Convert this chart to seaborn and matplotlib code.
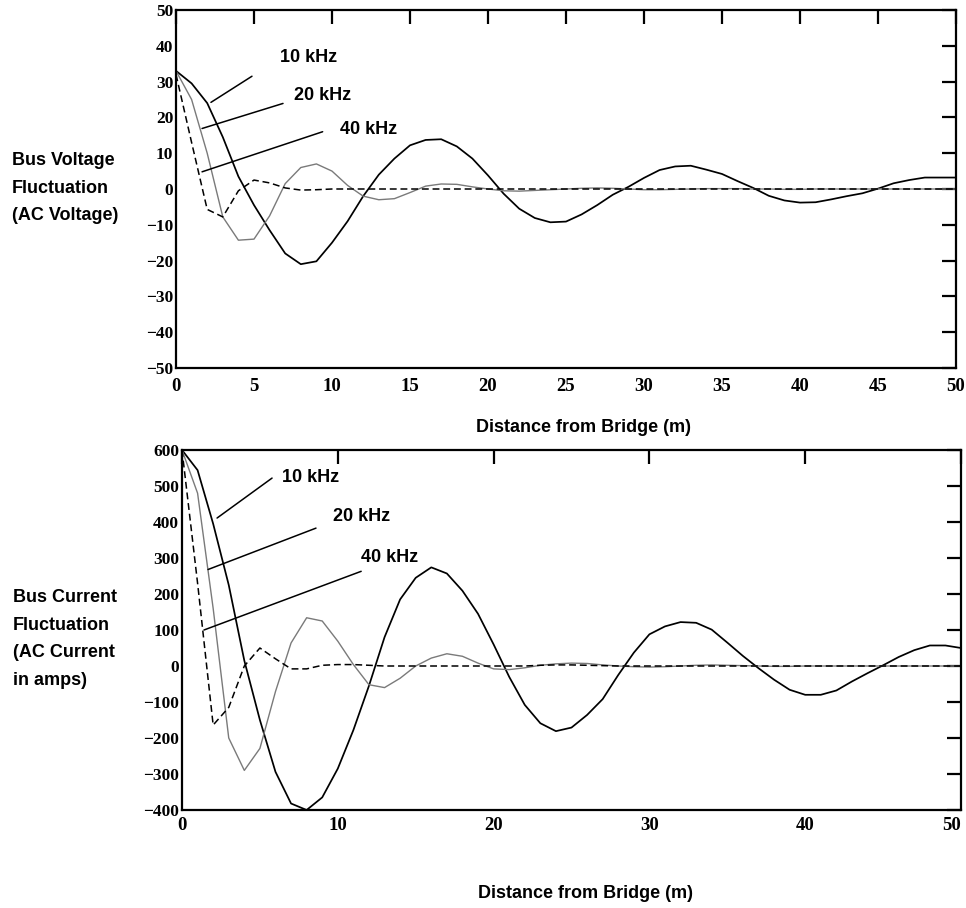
import matplotlib
matplotlib.use("Agg")
import matplotlib.pyplot as plt
import seaborn as sns
import numpy as np
import pandas as pd

# ---------------- data ----------------
distance = list(range(0, 51))

volt_10k = [33, 29.5, 24, 14.5, 3.5, -4.5, -11.5, -18, -21, -20.2,
            -15, -9, -2, 4, 8.5, 12.2, 13.7, 13.9, 11.9, 8.5,
            3.8, -1.3, -5.5, -8.1, -9.3, -9.1, -7.1, -4.5, -1.6, 0.6,
            3.1, 5.3, 6.3, 6.5, 5.4, 4.2, 2.2, 0.3, -1.9, -3.2,
            -3.8, -3.7, -2.9, -2.0, -1.2, 0.1, 1.6, 2.5, 3.2, 3.2, 3.2]
volt_20k = [33, 25, 10, -7.8, -14.3, -14, -7.5, 1.5, 6, 7,
            5, 1, -2, -3, -2.7, -1, 0.8, 1.4, 1.3, 0.6,
            0, -0.5, -0.6, -0.4, -0.2, 0, 0.2, 0.3, 0.2, 0,
            -0.2, -0.2, -0.1, 0, 0.1, 0.1, 0.1, 0, 0, -0.1,
            -0.1, 0, 0, 0, 0, 0, 0, 0, 0, 0, 0]
volt_40k = [32, 13, -5.7, -7.8, -0.5, 2.5, 1.7, 0.3, -0.3, -0.2,
            0, 0, 0, 0, 0, 0, 0, 0, 0, 0,
            0, 0, 0, 0, 0, 0, 0, 0, 0, 0,
            0, 0, 0, 0, 0, 0, 0, 0, 0, 0,
            0, 0, 0, 0, 0, 0, 0, 0, 0, 0, 0]

curr_10k = [600, 544, 395, 225, 15, -150, -294, -382, -400, -365,
            -285, -178, -55, 80, 185, 245, 274, 257, 209, 145,
            60, -30, -108, -159, -181, -171, -136, -92, -25, 37,
            88, 110, 122, 120, 101, 65, 28, -6, -38, -66,
            -80, -80, -68, -43, -20, 2, 25, 44, 57, 57, 50]
curr_20k = [600, 480, 160, -200, -290, -229, -71, 64, 134, 125,
            69, 4, -52, -60, -34, 0, 22, 34, 27, 8,
            -8, -10, -5, 2, 6, 8, 7, 3, 0, -2,
            -3, -2, 0, 2, 3, 2, 1, 0, -1, -1,
            0, 0, 0, 0, 0, 0, 0, 0, 0, 0, 0]
curr_40k = [600, 230, -164, -115, 0, 50, 20, -8, -8, 2,
            4, 4, 2, 0, 0, 0, 0, 0, 0, 0,
            0, 0, 0, 2, 3, 3, 2, 1, 0, 0,
            0, 0, 0, 0, 0, 0, 0, 0, 0, 0,
            0, 0, 0, 0, 0, 0, 0, 0, 0, 0, 0]

freq_labels = ["10 kHz", "20 kHz", "40 kHz"]
volt_yticks = list(range(-50, 51, 10))
volt_xticks = list(range(0, 51, 5))
curr_yticks = list(range(-400, 601, 100))
curr_xticks = list(range(0, 51, 10))

# ---------------- styling ----------------
sns.set_style("white")
plt.rcParams['font.family'] = ['Liberation Sans', 'DejaVu Sans']

W, H = 966, 908
fig = plt.figure(figsize=(W / 100, H / 100), dpi=100)

def fx(px):
    return px / W

def fy(py):
    return 1 - py / H

ax1 = fig.add_axes([fx(176), fy(368), fx(956) - fx(176), fy(10) - fy(368)])
ax2 = fig.add_axes([fx(182), fy(810), fx(961) - fx(182), fy(450) - fy(810)])

dfv = pd.DataFrame({"d": distance, "v10": volt_10k, "v20": volt_20k, "v40": volt_40k})
dfc = pd.DataFrame({"d": distance, "c10": curr_10k, "c20": curr_20k, "c40": curr_40k})

styles = [
    dict(color="black", lw=1.25, linestyle="-"),
    dict(color="#7a7a7a", lw=1.0, linestyle="-"),
    dict(color="black", lw=1.1, linestyle=(0, (4.5, 2.5))),
]

for ax, df, cols in [(ax1, dfv, ["v10", "v20", "v40"]), (ax2, dfc, ["c10", "c20", "c40"])]:
    for col, st in zip(cols, styles):
        sns.lineplot(data=df, x="d", y=col, ax=ax, **st)
    ax.set_xlabel("")
    ax.set_ylabel("")
    for s in ax.spines.values():
        s.set_linewidth(1.6)
        s.set_color("black")
    ax.tick_params(direction="in", length=10, width=1.6, top=True, right=True,
                   colors="black")
    ax.set_xlim(0, 50)

tick_font = dict(family="Liberation Serif", weight="bold")

ax1.set_ylim(-50, 50)
ax1.set_yticks(volt_yticks)
ax1.set_xticks(volt_xticks)
ax1.set_yticklabels([str(v).replace("-", "\u2212") for v in volt_yticks], fontsize=12.5, **tick_font)
ax1.set_xticklabels([str(v) for v in volt_xticks], fontsize=13.5, **tick_font)
ax1.tick_params(axis="y", pad=2)
ax1.tick_params(axis="x", pad=7)

ax2.set_ylim(-400, 600)
ax2.set_yticks(curr_yticks)
ax2.set_xticks(curr_xticks)
ax2.set_yticklabels([str(v).replace("-", "\u2212") for v in curr_yticks], fontsize=12.5, **tick_font)
ax2.set_xticklabels([str(v) for v in curr_xticks], fontsize=13.5, **tick_font)
ax2.tick_params(axis="y", pad=2)
ax2.tick_params(axis="x", pad=5)
ax2.get_xticklabels()[-1].set_horizontalalignment("right")

# ---------------- annotations ----------------
lab_font = dict(fontsize=13, fontweight="bold", color="black")

top_text = [(6.67, 35.4), (7.56, 25.0), (10.5, 15.4)]
top_lead = [((4.87, 31.5), (2.24, 24.2)), ((6.86, 23.9), (1.67, 16.9)), ((9.4, 16.0), (1.67, 4.8))]
bot_text = [(6.42, 511), (9.69, 402), (11.49, 290)]
bot_lead = [((5.78, 522), (2.25, 411)), ((8.6, 383), (1.67, 268)), ((11.5, 263), (1.41, 100))]

for ax, texts, leads in [(ax1, top_text, top_lead), (ax2, bot_text, bot_lead)]:
    for lab, (tx, ty), (p0, p1) in zip(freq_labels, texts, leads):
        ax.text(tx, ty, lab, ha="left", va="baseline", **lab_font)
        ax.plot([p0[0], p1[0]], [p0[1], p1[1]], color="black", lw=1.1)

# y-axis descriptions
for txt, py in [("Bus Voltage", 165), ("Fluctuation", 193), ("(AC Voltage)", 220)]:
    fig.text(fx(12), fy(py), txt, ha="left", va="baseline", **lab_font)
for txt, py in [("Bus Current", 602), ("Fluctuation", 630), ("(AC Current", 657), ("in amps)", 685)]:
    fig.text(fx(13), fy(py), txt, ha="left", va="baseline", **lab_font)

# x-axis titles
fig.text(fx(584), fy(428), "Distance from Bridge (m)", ha="center", va="center", **lab_font)
fig.text(fx(585), fy(894), "Distance from Bridge (m)", ha="center", va="center", **lab_font)

fig.savefig("out.png", dpi=100, facecolor="white")
